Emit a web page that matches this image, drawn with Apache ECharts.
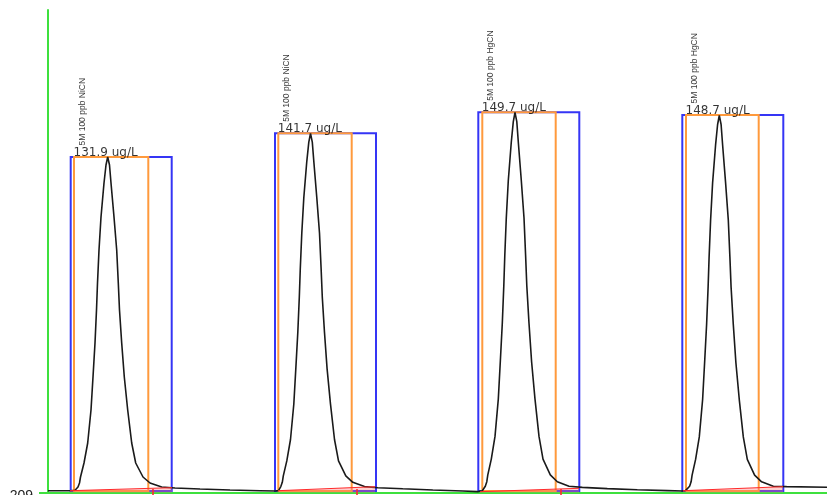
<!DOCTYPE html>
<html>
<head>
<meta charset="utf-8">
<script src="https://cdn.jsdelivr.net/npm/echarts@6/dist/echarts.min.js"></script>
<style>html,body{margin:0;padding:0;background:#fff}#chart{width:827px;height:495px}</style>
</head>
<body>
<div id="chart"></div>
<script>
// Chromatogram trace (time, signal)
const traceTime = [0,22,27,30,31.5,32.5,36,39.7,43,45,47,48.5,49.5,51,53,56,58,59.7,61.5,63,66,68.7,70.3,71.5,73.7,76.3,79.7,83.7,87.7,95,102,113.7,127,152,182,212,
  227,230.5,232.8,234.3,235.3,238.8,242.5,245.8,247.8,249.8,251.3,252.3,253.8,255.8,258.8,260.8,262.5,264.3,265.8,268.8,271.5,273.1,274.3,276.5,279.1,282.5,286.5,290.5,297.8,304.8,316.5,329.8,354.8,384.8,414.8,429.8,
  434.3,437.3,438.8,439.8,443.3,447,450.3,452.3,454.3,455.8,456.8,458.3,460.3,463.3,465.3,467,468.8,470.3,473.3,476,477.6,478.8,481,483.6,487,491,495,502.3,509.3,521,534.3,559.3,589.3,619.3,634,
  637.5,641.6,643.1,644.1,647.6,651.3,654.6,656.6,658.6,660.1,661.1,662.6,664.6,667.6,669.6,671.3,673.1,674.6,677.6,680.3,681.9,683.1,685.3,687.9,691.3,695.3,699.3,706.6,713.6,725.3,738.6,779];
const traceSignal = [227,227,231,264,304,364,504,704,1034,1364,1704,2034,2304,2634,2964,3304,3484,3564,3484,3304,2964,2634,2304,2034,1704,1364,1034,704,504,364,304,264,254,244,234,227,
  224,228,268,311,375,525,739,1092,1445,1809,2162,2451,2804,3157,3521,3713,3799,3713,3521,3157,2804,2451,2162,1809,1445,1092,739,525,375,311,268,257,246,234,224,218,
  226,271,317,385,543,770,1143,1517,1902,2276,2582,2956,3329,3714,3918,4009,3918,3714,3329,2956,2582,2276,1902,1517,1143,770,543,385,317,271,260,248,236,228,224,
  228,271,316,383,540,765,1136,1507,1889,2260,2563,2934,3305,3687,3889,3979,3889,3687,3305,2934,2563,2260,1889,1507,1136,765,540,383,316,271,268,261];

// Peak integration windows
const blueStart = [22.7, 227, 430.3, 634.3];
const blueEnd = [123.7, 328, 531.3, 735.3];
const orangeStart = [26, 230.3, 434.3, 638];
const orangeEnd = [100.3, 303.7, 507.7, 710.7];
const peakTop = [3564, 3801, 4011, 3984];
const boxBottom = 224;

// Baselines (start/end points)
const baseStartX = [22, 230, 432, 635];
const baseStartY = [227, 227, 217, 227];
const baseEndX = [124, 327, 531, 735];
const baseEndY = [257, 267, 251, 267];
const redTicks = [105, 309, 513];

// Peak annotations
const concentrations = [131.9, 141.7, 149.7, 148.7];
const sampleNames = ['5M 100 ppb NiCN', '5M 100 ppb NiCN', '5M 100 ppb HgCN', '5M 100 ppb HgCN'];

const yMin = 209, yMax = 5034, xMax = 779;

const chart = echarts.init(document.getElementById('chart'), null, {renderer: 'canvas'});

const green = '#3ee03e', blue = '#3535f5', orange = '#ff9a3c', red = '#ff2a2a';

const series = [];

// Blue boxes
series.push({
  type: 'line', data: [], silent: true, z: 2,
  markArea: {
    silent: true,
    itemStyle: {color: 'rgba(0,0,0,0)', borderColor: blue, borderWidth: 2},
    data: blueStart.map((s, i) => [{coord: [s, boxBottom]}, {coord: [blueEnd[i], peakTop[i]]}])
  }
});
// Orange boxes
series.push({
  type: 'line', data: [], silent: true, z: 3,
  markArea: {
    silent: true,
    itemStyle: {color: 'rgba(0,0,0,0)', borderColor: orange, borderWidth: 2},
    data: orangeStart.map((s, i) => [{coord: [s, boxBottom]}, {coord: [orangeEnd[i], peakTop[i]]}])
  }
});
// Baselines
baseStartX.forEach((sx, i) => {
  series.push({
    type: 'line', silent: true, z: 5, symbol: 'none',
    data: [[sx, baseStartY[i]], [baseEndX[i], baseEndY[i]]],
    lineStyle: {color: red, width: 1},
    areaStyle: {color: 'rgba(255,120,120,0.5)', origin: 'start'}
  });
});
// Trace
series.push({
  type: 'line', silent: true, z: 4, symbol: 'none',
  data: traceTime.map((t, i) => [t, traceSignal[i]]),
  lineStyle: {color: '#1a1a1a', width: 1.6}
});
// Red ticks
series.push({
  type: 'scatter', silent: true, z: 6,
  data: redTicks.map(t => [t, yMin]),
  symbol: 'rect', symbolSize: [2, 7],
  itemStyle: {color: red}
});
// Concentration labels
series.push({
  type: 'scatter', silent: true, z: 7,
  data: orangeStart.map((s, i) => [s, peakTop[i]]),
  symbolSize: 1, itemStyle: {color: 'rgba(0,0,0,0)'},
  label: {
    show: true, position: [0, 2], align: 'left', verticalAlign: 'bottom',
    formatter: p => concentrations[p.dataIndex].toFixed(1) + ' ug/L',
    fontFamily: 'DejaVu Sans', fontSize: 12, color: '#000'
  }
});
// Sample name labels (rotated)
series.push({
  type: 'scatter', silent: true, z: 7,
  data: orangeStart.map((s, i) => [s, peakTop[i]]),
  symbolSize: 1, itemStyle: {color: 'rgba(0,0,0,0)'},
  label: {
    show: true, position: [9, -11], rotate: 90, align: 'left', verticalAlign: 'middle',
    formatter: p => sampleNames[p.dataIndex],
    fontFamily: "'Liberation Sans', Arial, sans-serif", fontSize: 8.5, color: '#000'
  }
});

chart.setOption({
  animation: false,
  backgroundColor: '#fff',
  grid: {left: 48, right: 0, top: 10, bottom: 2.5, outerBoundsMode: 'none', containLabel: false},
  xAxis: {
    type: 'value', min: 0, max: xMax,
    axisLine: {show: true, onZero: false, lineStyle: {color: green, width: 2}},
    axisTick: {show: false}, axisLabel: {show: false}, splitLine: {show: false}
  },
  yAxis: {
    type: 'value', min: yMin, max: yMax,
    axisLine: {show: true, lineStyle: {color: green, width: 2}},
    axisTick: {show: true, length: 9, customValues: [yMin], lineStyle: {color: green, width: 2}},
    axisLabel: {
      show: true, customValues: [yMin], margin: 15,
      fontFamily: 'Liberation Sans', fontSize: 14, color: '#222',
      verticalAlign: 'top', lineHeight: 8
    },
    splitLine: {show: false}
  },
  series: series
});
</script>
</body>
</html>
